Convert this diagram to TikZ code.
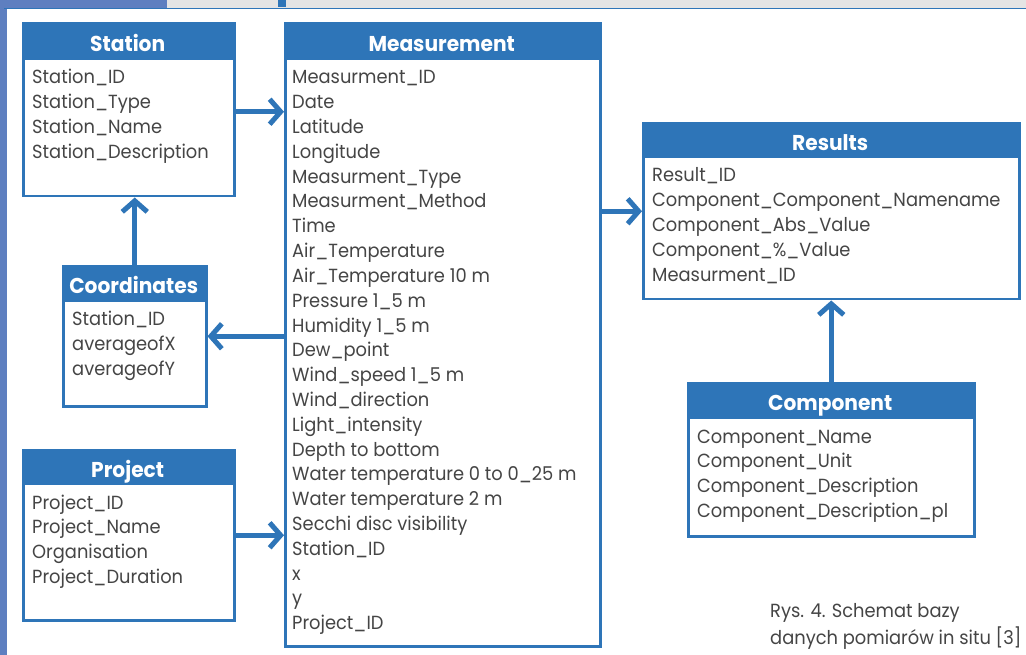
\documentclass[tikz,border=0pt]{standalone}
\usepackage{fontspec}
\setmainfont{Poppins}[FakeStretch=0.94]
\usetikzlibrary{arrows.meta,calc}
\definecolor{hdr}{HTML}{2E75B8}
\definecolor{txt}{HTML}{454545}
\definecolor{photo}{HTML}{5E7FC0}
\definecolor{strip}{HTML}{E4E4E4}
\tikzset{
  tbody/.style={draw=hdr, line width=2.5pt, fill=white, anchor=north west, inner sep=0pt},
  thead/.style={fill=hdr, anchor=north west, inner sep=0pt, text=white,
    text height=20pt, text depth=0pt,
    font=\fontsize{21.5}{24}\selectfont\bfseries},
  field/.style={anchor=base west, inner sep=0pt, text=txt, font=\fontsize{19}{23}\selectfont},
  rel/.style={draw=hdr, line width=5pt, -{Straight Barb[length=11pt,width=25pt]}},
  caption/.style={anchor=base west, inner sep=0pt, text=txt, font=\fontsize{19}{23}\selectfont}
}
% #1 name, #2 x, #3 y, #4 width, #5 height, #6 header height, #7 title, #8 text indent, #9 fields
\newcommand{\erdtable}[9]{%
  \node[tbody, minimum width=#4pt, minimum height=#5pt] (#1) at (#2,#3) {};
  \node[thead, minimum width=#4pt, minimum height=#6pt] (#1-h) at (#2,#3) {#7};
  \foreach \f [count=\i] in {#9} {
    \node[field] (#1-\i) at ({#2+#8},{#3+#6+24+(\i-1)*24.8}) {\f};
  }
}
\begin{document}
\begin{tikzpicture}[x=1pt,y=-1pt]
\useasboundingbox (0,0) rectangle (1026,655);
% background
\fill[photo] (0,0) rectangle (1026,655);
\fill[strip] (167,0) rectangle (1026,8);
\fill[hdr] (278,0) rectangle (286,7);
\fill[white] (7,9) rectangle (1026,655);
\draw[hdr, line width=1.2pt] (4,8.5) -- (1026,8.5);

\erdtable{st}{22}{22}{211}{173}{38}{Station}{10}{Station\_ID,Station\_Type,Station\_Name,Station\_Description}
\erdtable{me}{284}{22}{315}{623}{38}{Measurement}{8}{Measurment\_ID,Date,Latitude,Longitude,Measurment\_Type,Measurment\_Method,Time,Air\_Temperature,Air\_Temperature 10 m,Pressure 1\_5 m,Humidity 1\_5 m,Dew\_point,Wind\_speed 1\_5 m,Wind\_direction,Light\_intensity,Depth to bottom,Water temperature 0 to 0\_25 m,Water temperature 2 m,Secchi disc visibility,Station\_ID,x,y,Project\_ID}
\erdtable{re}{642}{122}{376}{176}{36}{Results}{10}{Result\_ID,Component\_Component\_Namename,Component\_Abs\_Value,Component\_\%\_Value,Measurment\_ID}
\erdtable{co}{62}{265}{143}{140}{37}{Coordinates}{10}{Station\_ID,averageofX,averageofY}
\erdtable{pr}{22}{449}{211}{170}{36}{Project}{10}{Project\_ID,Project\_Name,Organisation,Project\_Duration}
\erdtable{cm}{687}{382}{286}{153}{37}{Component}{10}{Component\_Name,Component\_Unit,Component\_Description,Component\_Description\_pl}

% relations
\draw[rel] ([yshift=-2pt]st.east) -- ([yshift=-2pt]st.east -| me.west);
\draw[rel] (co.east -| me.west) -- (co.east);
\draw[rel] (pr.east) -- (pr.east -| me.west);
\draw[rel] (re.west -| me.east) -- (re.west);
\draw[rel] (co.north) -- (co.north |- st.south);
\draw[rel] (cm.north) -- (cm.north |- re.south);

% caption
\node[caption] (cap1) at (770,617) {Rys. 4. Schemat bazy};
\node[caption] (cap2) at (770,644) {danych pomiarów in situ [3]};
\end{tikzpicture}
\end{document}
